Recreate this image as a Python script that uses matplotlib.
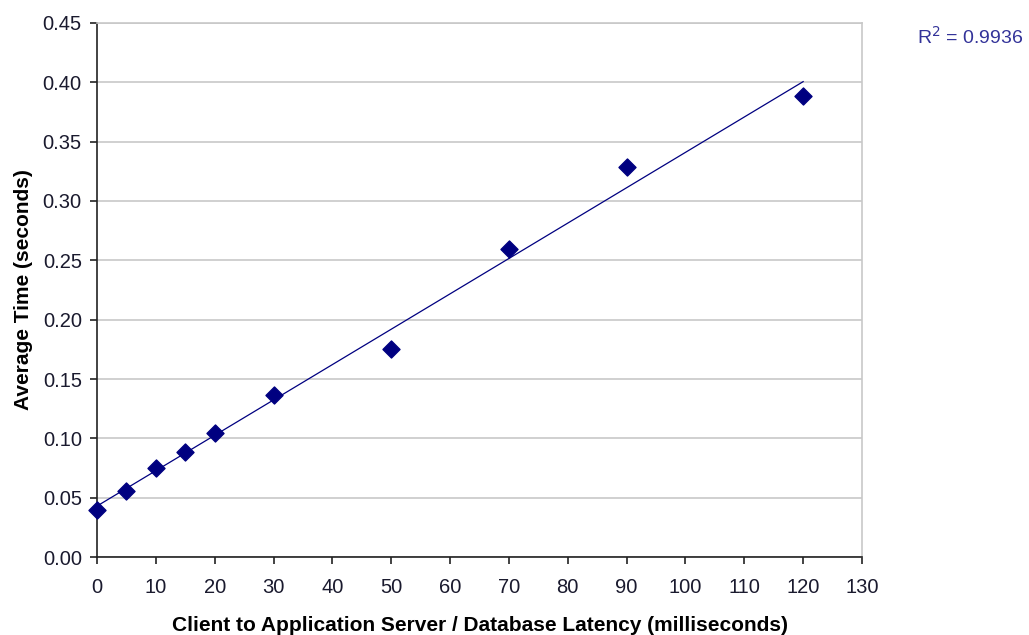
import numpy as np
import matplotlib.pyplot as plt

# Latency (ms) vs average time (s)
latency_ms = [0, 5, 10, 15, 20, 30, 50, 70, 90, 120]
avg_time_s = [0.040, 0.0555, 0.075, 0.0885, 0.1045, 0.1365, 0.175, 0.2595, 0.3285, 0.3885]
r2_label = 'R$^2$ = 0.9936'

x_ticks = list(range(0, 131, 10))
y_ticks = [0.00, 0.05, 0.10, 0.15, 0.20, 0.25, 0.30, 0.35, 0.40, 0.45]

navy = '#000080'
plt.rcParams['font.family'] = ['Liberation Sans', 'DejaVu Sans']

fig = plt.figure(figsize=(10.29, 6.35), dpi=100)
ax = fig.add_axes([0.0943, 0.1228, 0.7434, 0.841])

# Linear trend line fitted to the points
slope, intercept = np.polyfit(latency_ms, avg_time_s, 1)
fit_x = np.array([min(latency_ms), max(latency_ms)])
ax.plot(fit_x, slope * fit_x + intercept, color=navy, linewidth=0.9, zorder=2)

ax.scatter(latency_ms, avg_time_s, marker='D', s=75, color=navy, zorder=3, clip_on=False)

ax.set_xlim(0, 130)
ax.set_ylim(0, 0.45)
ax.set_xticks(x_ticks)
ax.set_yticks(y_ticks)
ax.set_yticklabels([f'{v:.2f}' for v in y_ticks])

ax.grid(axis='y', color='#c8c8c8', linewidth=1.2)
ax.set_axisbelow(True)
for side in ['top', 'right']:
    ax.spines[side].set_color('#c8c8c8')
    ax.spines[side].set_linewidth(1.2)
for side in ['left', 'bottom']:
    ax.spines[side].set_color('#222222')
    ax.spines[side].set_linewidth(1.2)

ax.tick_params(axis='both', direction='out', length=5, width=1.2, color='#222222',
               labelsize=14.5, labelcolor='#1a1a2e')
ax.tick_params(axis='x', pad=10)
ax.tick_params(axis='y', pad=6)

ax.set_xlabel('Client to Application Server / Database Latency (milliseconds)',
              fontsize=15, fontweight='bold', labelpad=14)
ax.set_ylabel('Average Time (seconds)', fontsize=15, fontweight='bold', labelpad=7)

fig.text(0.891, 0.942, r2_label, fontsize=14, color='#333399', va='center', ha='left')

fig.savefig('out.png', dpi=100)
